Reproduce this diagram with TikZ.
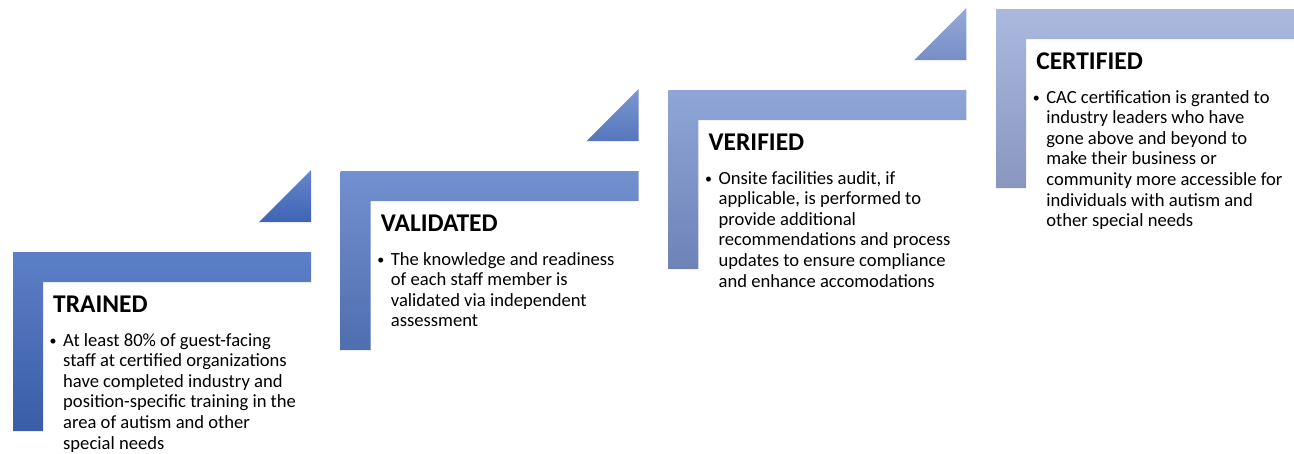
\documentclass[tikz,border=0pt]{standalone}
\usepackage{fontspec}
\setmainfont{Carlito}
\definecolor{stepA}{HTML}{4169BE}
\definecolor{stepB}{HTML}{5A7DC7}
\definecolor{stepC}{HTML}{7C95D0}
\definecolor{stepD}{HTML}{9CACD9}
\newcommand{\blt}{\llap{\raisebox{1pt}{\fontsize{14}{14}\selectfont\textbullet}\hspace{6.5pt}}\strut}

\begin{document}
\begin{tikzpicture}[x=1pt, y=-1pt,
		title/.style={font=\fontsize{25.5}{30}\selectfont\bfseries, anchor=base west, inner sep=0pt},
		body/.style={font=\fontsize{18.6}{20.6}\selectfont, align=left, anchor=north west, inner sep=0pt}]
		\useasboundingbox (0,0) rectangle (1294,453);
		% the four steps
		\foreach \i/\c in {0/stepA, 1/stepB, 2/stepC, 3/stepD}{
			\pgfmathsetmacro\x{13+327.7*\i}
			\pgfmathsetmacro\y{252-81*\i}
			\shade[top color=\c!85!white, middle color=\c, bottom color=\c!88!black] (\x,\y) -- ++(298,0) -- ++(0,30) -- ++(-268,0) -- ++(0,149) -- ++(-30,0) --cycle;
		}
		% small triangles above the steps
		\foreach \i/\c in {0/stepA, 1/stepB, 2/stepC}{
			\pgfmathsetmacro\x{13+327.7*\i}
			\pgfmathsetmacro\y{252-81*\i}
			\shade[top color=\c!80!white, bottom color=\c!95!black] (\x+298,\y-82) -- (\x+298,\y-30) -- (\x+246,\y-30) --cycle;
		}
		\node[title] (trained) at (53,312) {TRAINED};
		\node[body] (trainedtxt) at (63,331.4) {\blt At least 80\% of guest-facing\\staff at certified organizations\\have completed industry and\\position-specific training in the\\area of autism and other\\special needs};
		\node[title] (validated) at (380.7,231) {VALIDATED};
		\node[body] (validatedtxt) at (390.7,250.4) {\blt The knowledge and readiness\\of each staff member is\\validated via independent\\assessment};
		\node[title] (verified) at (708.4,150) {VERIFIED};
		\node[body] (verifiedtxt) at (718.4,169.4) {\blt Onsite facilities audit, if\\applicable, is performed to\\provide additional\\recommendations and process\\updates to ensure compliance\\and enhance accomodations};
		\node[title] (certified) at (1036.1,69) {CERTIFIED};
		\node[body] (certifiedtxt) at (1046.1,88.4) {\blt CAC certification is granted to\\industry leaders who have\\gone above and beyond to\\make their business or\\community more accessible for\\individuals with autism and\\other special needs};
	\end{tikzpicture}
\end{document}
